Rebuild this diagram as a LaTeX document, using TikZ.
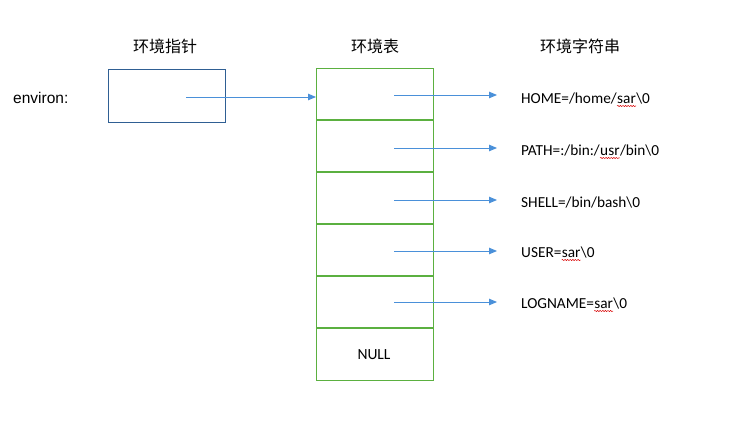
\documentclass[tikz,border=0pt]{standalone}
\usepackage{fontspec}
\setmainfont{Carlito}
\newfontfamily\cjk{Noto Sans CJK SC}
\newfontfamily\arialish{Liberation Sans}
\usetikzlibrary{arrows.meta,decorations.pathmorphing}
\definecolor{ptrblue}{HTML}{2F5F93}
\definecolor{tabgreen}{HTML}{5BB040}
\definecolor{arrblue}{HTML}{4A90D9}
\begin{document}
\begin{tikzpicture}[x=1pt,y=-1pt,
  hdr/.style={font=\cjk\fontsize{16}{16}\selectfont, inner sep=0pt},
  lbl/.style={font=\fontsize{15.3}{15.3}\selectfont, inner sep=0pt, anchor=base west},
  cell/.style={draw=tabgreen, line width=1.2pt, minimum width=117pt, minimum height=52pt, inner sep=0pt, anchor=north west},
  ptr/.style={draw=arrblue, line width=0.9pt, -{Triangle[length=8pt,width=6.5pt]}},
  wave/.style={draw=red!85!black, line width=0.5pt, decorate, decoration={snake, amplitude=0.6pt, segment length=2.6pt}}]
\useasboundingbox (0,0) rectangle (736,422);
% headers
\node[hdr] (h1) at (165,46) {环境指针};
\node[hdr] (h2) at (375,46) {环境表};
\node[hdr] (h3) at (580,46) {环境字符串};
% environ
\node[lbl, font=\arialish\fontsize{15.5}{15.5}\selectfont] (env) at (13,104) {environ:};
\node[draw=ptrblue, line width=1pt, minimum width=117pt, minimum height=53pt, inner sep=0pt, anchor=north west] (pbox) at (108,69) {};
\coordinate (pstart) at (186,97);
% table
\node[cell] (c1) at (316,68) {};
\node[cell] (c2) at (316,120) {};
\node[cell] (c3) at (316,172) {};
\node[cell] (c4) at (316,224) {};
\node[cell] (c5) at (316,276) {};
\node[cell] (c6) at (316,328) {};
\node[font=\fontsize{15.5}{15.5}\selectfont, inner sep=0pt] (null) at (374,354.5) {NULL};
\foreach \i in {2,...,6}{\draw[draw=tabgreen, line width=2.6pt] (c\i.north west) -- (c\i.north east);}
% pointer arrow
\coordinate (t1) at (316,97);
\draw[ptr] (pstart) -- (t1);
% strings
\node[lbl] (s1a) at (521,103.5) {HOME=/home/};
\node[lbl, anchor=base west] (s1b) at (s1a.base east) {sar};
\node[lbl, anchor=base west] (s1c) at (s1b.base east) {\textbackslash 0};
\node[lbl] (s2a) at (521,155.5) {PATH=:/bin:/};
\node[lbl, anchor=base west] (s2b) at (s2a.base east) {usr};
\node[lbl, anchor=base west] (s2c) at (s2b.base east) {/bin\textbackslash 0};
\node[lbl] (s3) at (521,207.5) {SHELL=/bin/bash\textbackslash 0};
\node[lbl] (s4a) at (521,257.5) {USER=};
\node[lbl, anchor=base west] (s4b) at (s4a.base east) {sar};
\node[lbl, anchor=base west] (s4c) at (s4b.base east) {\textbackslash 0};
\node[lbl] (s5a) at (521,308.5) {LOGNAME=};
\node[lbl, anchor=base west] (s5b) at (s5a.base east) {sar};
\node[lbl, anchor=base west] (s5c) at (s5b.base east) {\textbackslash 0};
% wavy underlines
\foreach \n in {s1b,s2b,s4b,s5b}{\draw[wave] ([yshift=-2.5pt]\n.base west) -- ([yshift=-2.5pt]\n.base east);}
% arrows from cells
\coordinate (a1) at (394,95);  \coordinate (b1) at (497,95);
\coordinate (a2) at (394,148); \coordinate (b2) at (497,148);
\coordinate (a3) at (394,200); \coordinate (b3) at (497,200);
\coordinate (a4) at (394,251); \coordinate (b4) at (497,251);
\coordinate (a5) at (394,302); \coordinate (b5) at (497,302);
\foreach \i in {1,...,5}{\draw[ptr] (a\i) -- (b\i);}
\end{tikzpicture}
\end{document}
